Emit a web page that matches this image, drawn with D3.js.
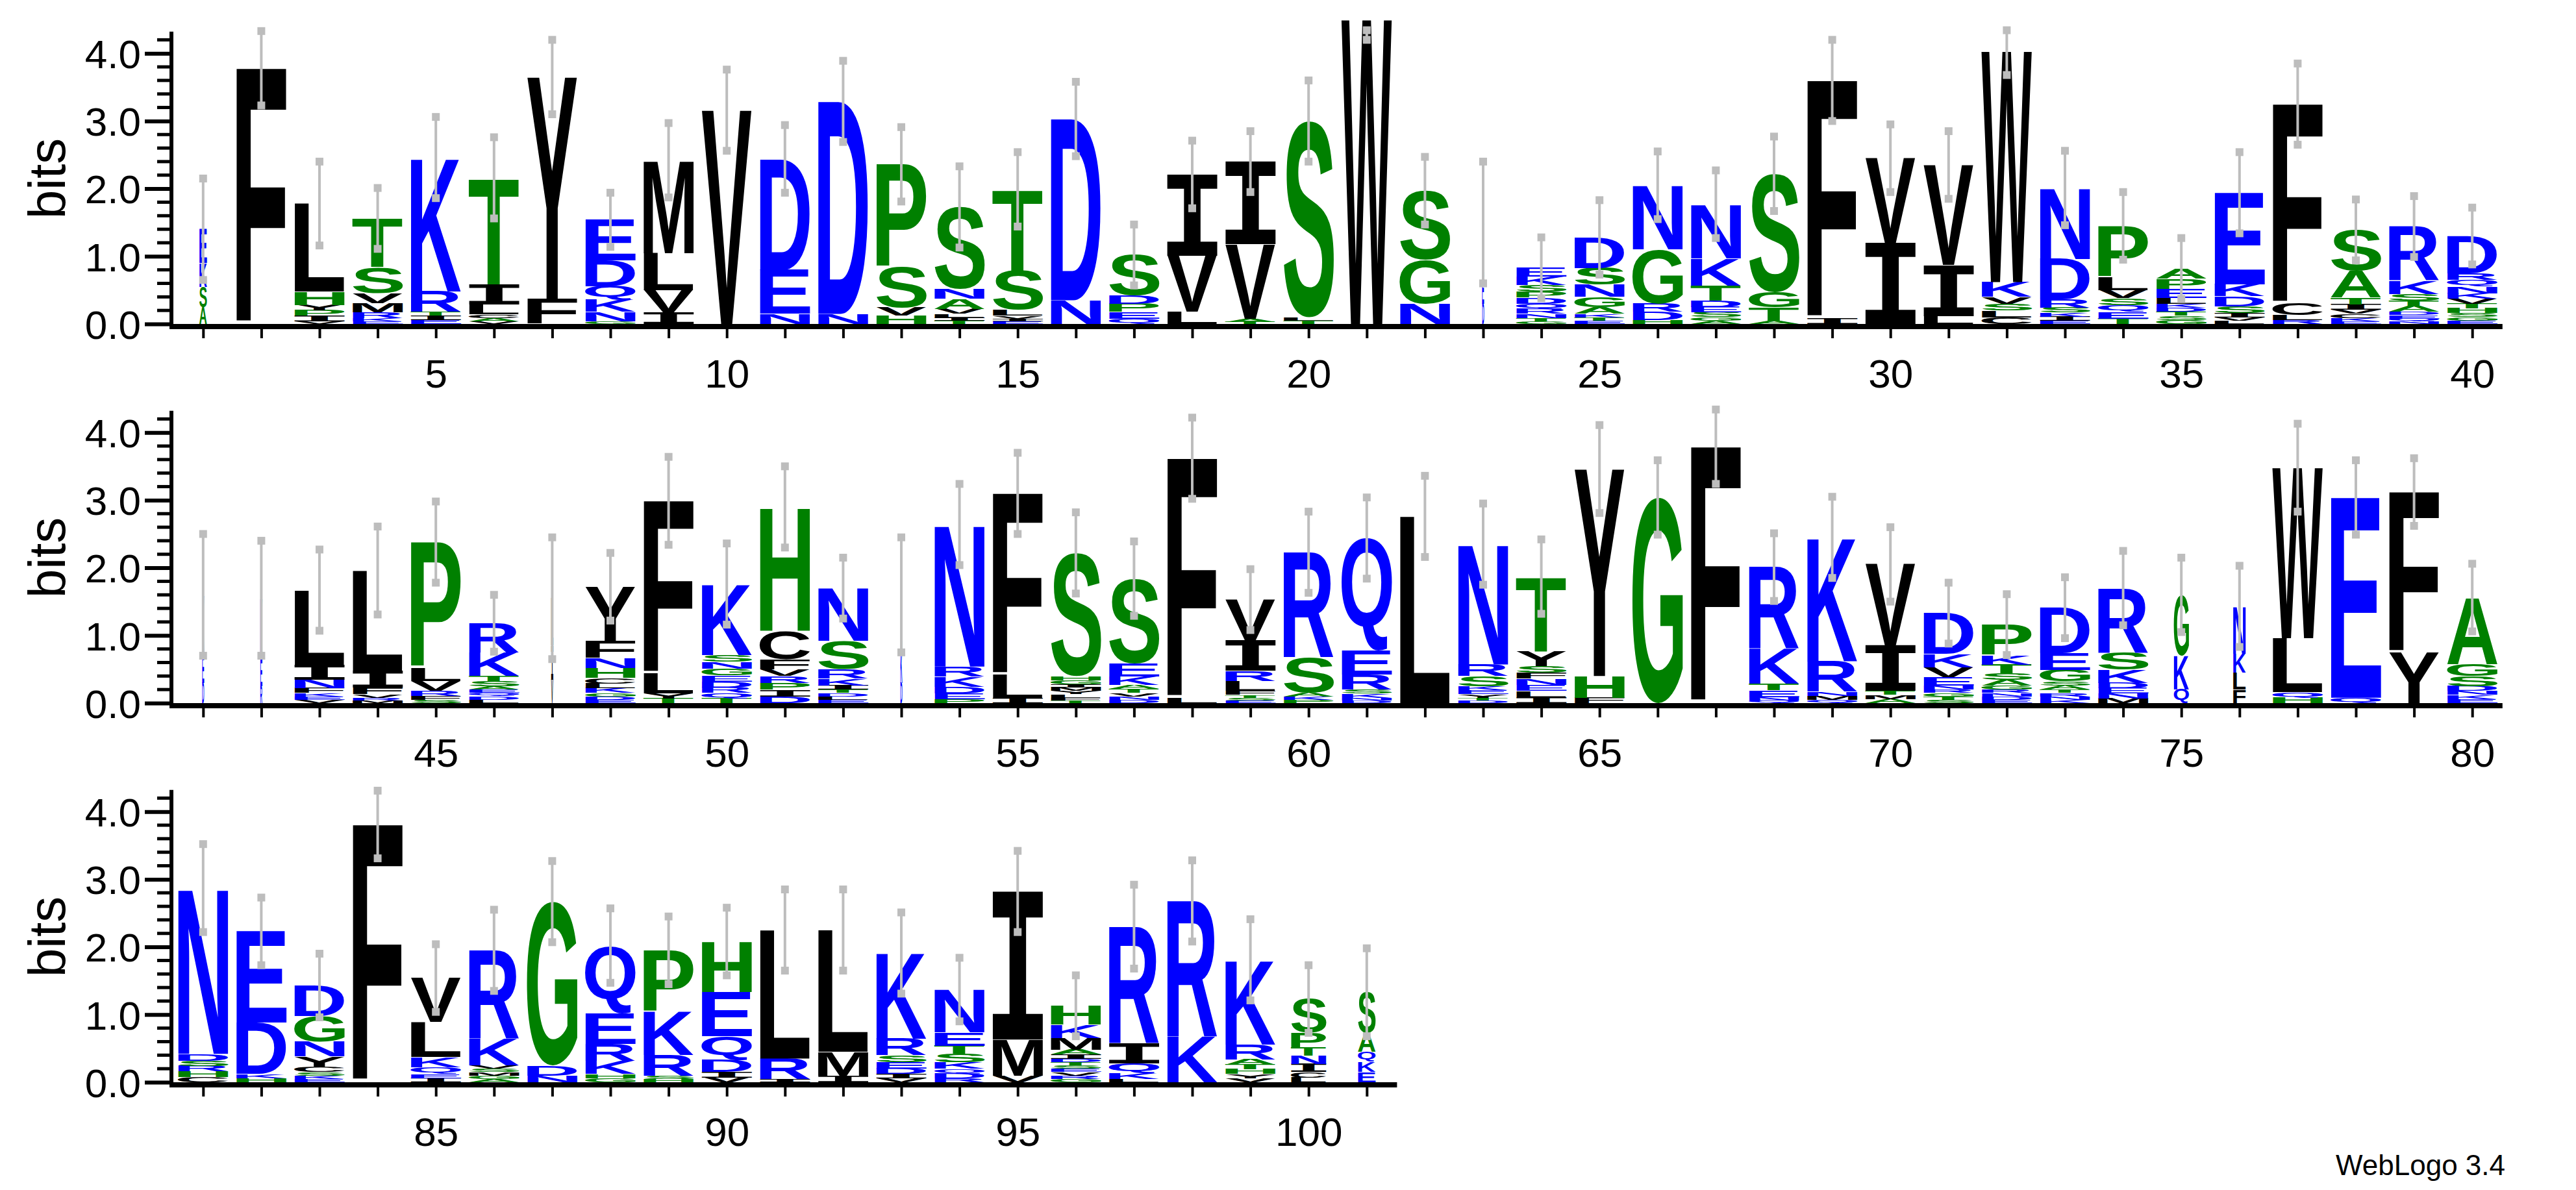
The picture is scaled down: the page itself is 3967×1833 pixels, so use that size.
<!DOCTYPE html>
<meta charset="utf-8">
<style>
  body { margin: 0; background: #fff; }
  .axis path, .axis line { stroke: #000; }
  .axis text { font-family: "Liberation Sans", Arial, sans-serif; font-size: 62px; fill: #000; }
</style>
<svg width="3967" height="1833"></svg>
<script src="https://d3js.org/d3.v7.min.js"></script>
<script>
// letter stacks per position (letter + bits), positions 1..101
var stacks = [
  "E.5 K.35 A.25 S.3", "F3.78", "L1.3 H.2 I.08 P.08 Y.08 V.04", "T.72 S.38 V.15 M.14 R.08 K.05 E.04",
  "K1.98 R.3 E.06 I.06 T.06", "T1.57 I.3 L.15 A.05 C.05 V.04", "Y3.28 F.37", "E.6 D.38 Q.2 K.18 N.14 G.04",
  "M1.37 L.55 V.33 I.17", "V3.16", "D1.64 E.65 N.15", "D3.14 N.15",
  "P1.52 S.6 H.12 V.12", "S1.21 A.15 N.15 V.07 T.05 I.05 L.05", "T1.2 S.58 L.09 E.04 I.04 V.04", "D2.68 N.35",
  "S.6 P.12 D.12 E.1 Q.08", "I1.2 V.83 L.18", "I1.22 V1.1 A.05 T.03", "S2.9 T.05 L.05",
  "W4.5", "S1.02 G.65 N.3", "K.8 E.4 D.3", "E.13 K.12 S.1 D.09 P.09 Q.08 R.07 N.06 T.05 G.04",
  "D.45 S.25 G.15 N.18 A.1 E.05 T.05 K.05", "N.95 G.8 D.12 R.12 H.06", "N.8 K.4 T.22 D.1 E.08 S.07 A.05 G.05", "S1.75 G.22 T.2 A.05",
  "F3.52 I.08", "I1.2 V1.25", "V1.48 I.75 L.12", "W3.41 K.22 C.1 L.1 S.1 V.1",
  "N1.05 D.6 R.12 I.06 K.06 E.05 S.07", "P.75 L.2 V.12 E.1 Q.1 S.1 T.08", "E.14 P.15 A.15 L.08 G.06 S.06 T.06 D.06 K.06", "E1.35 K.18 D.15 S.1 I.06 L.05 V.05",
  "F2.95 C.17 L.07 R.06", "S.6 A.4 T.1 I.08 C.06 V.06 K.05 E.04", "R.8 K.2 A.08 S.1 T.08 E.05 D.05 N.04 Q.04", "D.55 N.1 Q.1 R.1 H.07 K.08 T.07 V.07 S.06 E.05 G.05",
  "K.9 E.4 D.3", "K.9 E.4 R.25", "L1.1 I.22 N.13 F.07 V.05 E.05 K.05", "L1.48 I.25 F.1 V.05 M.04 R.04",
  "P1.85 L.2 V.15 F.06 S.05 R.07", "R.43 K.35 T.08 S.07 L.05 D.05 Q.05 E.05 A.05", "L.7 I.5 V.35", "Y.8 F.25 H.15 N.15 C.08 K.07 L.07 E.05 D.05 G.05",
  "F2.55 L.3 T.07 Y.07", "K1.05 G.1 N.1 S.1 D.09 E.09 Q.08 R.08 T.07", "H1.83 C.42 F.15 D.1 I.1 P.1 R.1 V.1", "N.78 S.42 R.14 K.1 I.06 E.05 L.05 D.05 T.05",
  "E.8 K.5 D.3", "N2.1 K.15 R.15 D.1 E.08 P.06", "F2.68 L.35 I.07", "S1.82 G.06 H.06 L.05 Y.05 M.05 T.04 F.04 I.05",
  "S1.25 E.2 K.12 T.06 A.06 D.05 N.05 V.05", "F3.55 L.07", "V.6 I.45 L.15 R.15 F.06 E.04 S.04 T.04", "R1.55 S.52 A.06 P.05 K.05",
  "Q1.67 E.35 R.22 K.06 S.06 D.04 N.04", "L2.76", "N1.78 R.17 S.15 E.06 K.06 Y.05 D.04 T.04", "T1.1 Y.22 S.1 I.09 L.09 E.09 N.09 F.09",
  "Y3.06 H.32 F.08", "G3.04", "F3.79", "R1.2 K.52 E.1 T.1 N.05 Q.04",
  "K1.83 R.45 M.06 Q.05 N.06", "V1.2 I.67 A.06 M.06 T.06", "D.6 K.2 V.15 E.12 N.06 S.05 T.05 G.05 R.05", "P.45 K.14 T.13 S.1 A.08 G.06 E.05 D.05 N.05 R.05",
  "D.67 E.25 G.17 A.06 S.06 K.05 N.05 R.05 T.05", "R.95 S.25 K.2 E.08 D.08 M.07 N.07", "G.9 K.5 Q.2", "N.7 F.2 K.28 L.25",
  "W2.52 L.8 H.08 Q.08", "E2.96 Q.08", "F2.37 Y.75", "A.98 G.18 S.15 D.07 E.06 K.06 N.06",
  "N2.45 C.08 D.1 H.08 R.08 S.08", "E1.35 D.76 H.06 K.06", "D.45 G.38 N.22 Y.15 C.08 E.05 K.05 S.05", "F3.81",
  "V.65 L.52 K.15 Q.1 I.06 E.06", "R1.3 K.4 A.05 G.05 M.05 S.05 V.05", "G2.42 D.15 N.1", "Q1.0 E.45 R.25 K.2 G.06 H.06",
  "P.9 K.65 R.3 H.05 S.05", "H.75 E.65 Q.35 D.18 I.08 V.07", "L1.9 R.3 I.05", "L1.8 M.35 I.1",
  "K1.27 R.24 E.1 S.1 D.08 V.06 I.06", "N.63 E.2 K.1 S.12 T.12 D.07 Q.07 R.06", "I2.19 M.53 V.1", "H.28 K.2 M.17 A.07 I.06 G.05 R.05 V.05 E.05 S.05 T.05 D.05",
  "R1.72 I.3 Q.15 K.08 L.05", "R2.0 K.68", "K1.25 R.22 A.08 H.07 T.07 V.06 Y.06", "S.5 P.22 I.12 N.12 T.12 C.08 L.07",
  "S.6 A.28 E.15 K.15 Q.15"
];
// error bar half-widths (bits)
var errors = [
  0.75, 0.55, 0.62, 0.45, 0.6, 0.6, 0.55, 0.4, 0.55, 0.6,
  0.5, 0.6, 0.55, 0.6, 0.55, 0.55, 0.45, 0.5, 0.45, 0.6,
  0.3, 0.5, 0.9, 0.45, 0.55, 0.5, 0.5, 0.55, 0.6, 0.5,
  0.5, 0.35, 0.55, 0.5, 0.45, 0.6, 0.6, 0.45, 0.45, 0.42,
  0.9, 0.85, 0.6, 0.65, 0.6, 0.42, 0.9, 0.5, 0.65, 0.6,
  0.6, 0.45, 0.85, 0.6, 0.6, 0.6, 0.55, 0.6, 0.45, 0.6,
  0.6, 0.6, 0.6, 0.55, 0.65, 0.55, 0.55, 0.5, 0.6, 0.55,
  0.45, 0.45, 0.45, 0.55, 0.55, 0.6, 0.65, 0.55, 0.5, 0.5,
  0.65, 0.5, 0.47, 0.5, 0.5, 0.6, 0.6, 0.55, 0.5, 0.5,
  0.6, 0.6, 0.6, 0.47, 0.6, 0.45, 0.62, 0.6, 0.6, 0.5,
  0.65
];
// narrow columns (many gaps) and their width fraction
var narrowCols = [1, 23, 41, 42, 47, 53, 75, 76, 100, 101];
var narrowFrac = [0.15, 0.04, 0.04, 0.04, 0.04, 0.04, 0.3, 0.25, 0.7, 0.35];

var rowStarts = [1, 41, 81];
var rowEnds = [40, 80, 101];
var yTicks = [0, 1, 2, 3, 4];

var hydrophilic = "RKDENQ", neutral = "SGHTAP";
function colour(l) {
  return hydrophilic.includes(l) ? "#0000ff" : neutral.includes(l) ? "#008000" : "#000000";
}

var svg = d3.select("svg");
// the I needs serifs like the WebLogo glyph, so it comes from a mono font
function fontFor(l) { return l === "I" ? "bold 100px 'DejaVu Sans Mono'" : "bold 100px 'Liberation Sans'"; }
var ctx = document.createElement("canvas").getContext("2d");
var metrics = {};
function glyph(l) {
  if (!metrics[l]) {
    ctx.font = fontFor(l);
    var m = ctx.measureText(l);
    metrics[l] = {l: m.actualBoundingBoxLeft, r: m.actualBoundingBoxRight,
                  a: m.actualBoundingBoxAscent, d: m.actualBoundingBoxDescent};
  }
  return metrics[l];
}

var step = 89.6, colFrac = 0.87, rowZero0 = 499, rowGap = 584;
var yMax = Math.log2(20);

rowStarts.forEach(function(start, r) {
  var zero = rowZero0 + r * rowGap;
  var end = rowEnds[r];
  var x = d3.scaleLinear().domain([start - 0.5, start + 39.5]).range([268, 268 + 40 * step]);
  var y = d3.scaleLinear().domain([0, 4]).range([zero, zero - 4 * 104.2]);
  var g = svg.append("g");

  // stacks
  d3.range(start, end + 1).forEach(function(p) {
    var items = stacks[p - 1].split(" ").map(function(s) { return {l: s[0], b: +s.slice(1)}; });
    items.sort(function(a, b) { return a.b - b.b; });
    var ni = narrowCols.indexOf(p);
    var w = step * colFrac * (ni >= 0 ? narrowFrac[ni] : 1);
    var x0 = x(p) - w / 2;
    var cum = 0;
    items.forEach(function(it) {
      var yb = y(cum), yt = y(cum + it.b);
      cum += it.b;
      var h = yb - yt;
      if (h < 0.5) return;
      var m = glyph(it.l);
      g.append("text")
        .attr("transform", "translate(" + x0 + "," + yt + ") scale(" + (w / (m.l + m.r)) + "," + (h / (m.a + m.d)) + ")")
        .attr("x", m.l).attr("y", m.a)
        .style("font", fontFor(it.l))
        .attr("fill", colour(it.l))
        .text(it.l);
    });
    // error bar
    var e = errors[p - 1];
    var top = Math.min(cum + e, yMax + 0.02), bot = Math.max(cum - e, 0);
    g.append("line").attr("x1", x(p)).attr("x2", x(p)).attr("y1", y(top)).attr("y2", y(bot))
      .attr("stroke", "#bdbdbd").attr("stroke-width", 4);
    [top, bot].forEach(function(v) {
      g.append("rect").attr("x", x(p) - 6).attr("y", y(v) - 6).attr("width", 12).attr("height", 12)
        .attr("fill", "#bdbdbd");
    });
  });

  // x axis
  var xa = g.append("g").attr("class", "axis").attr("transform", "translate(0," + (zero + 4) + ")")
    .call(d3.axisBottom(x).tickValues(d3.range(start, end + 1)).tickSize(18).tickPadding(32)
      .tickFormat(function(d) { return d % 5 === 0 ? d : ""; }));
  xa.select(".domain").attr("d", "M264,0H" + x(end + 0.52)).attr("stroke-width", 8);
  xa.selectAll(".tick line").attr("stroke-width", 4);

  // y axis
  var ya = g.append("g").attr("class", "axis").attr("transform", "translate(264,0)")
    .call(d3.axisLeft(y).tickValues(yTicks).tickSize(41).tickPadding(6).tickFormat(d3.format(".1f")));
  ya.select(".domain").attr("d", "M0," + (zero + 8) + "V" + y(yMax)).attr("stroke-width", 6);
  ya.selectAll(".tick line").attr("stroke-width", 6);
  ya.selectAll(".tick text").attr("dy", "0.36em");
  g.append("g").selectAll("line").data(d3.range(0.2, yMax, 0.2).filter(function(v) { return Math.abs(v - Math.round(v)) > 0.05; }))
    .join("line").attr("x1", 242).attr("x2", 264).attr("y1", function(d) { return y(d); }).attr("y2", function(d) { return y(d); })
    .attr("stroke", "#000").attr("stroke-width", 5);

  g.append("text").attr("transform", "translate(100," + y(2.15) + ") rotate(-90)")
    .attr("text-anchor", "middle").style("font-family", "'Liberation Sans', Arial, sans-serif")
    .style("font-size", "80px").text("bits");
});

svg.append("text").attr("x", 3858).attr("y", 1810).attr("text-anchor", "end")
  .style("font-family", "'Liberation Sans', Arial, sans-serif").style("font-size", "44px").text("WebLogo 3.4");
</script>
